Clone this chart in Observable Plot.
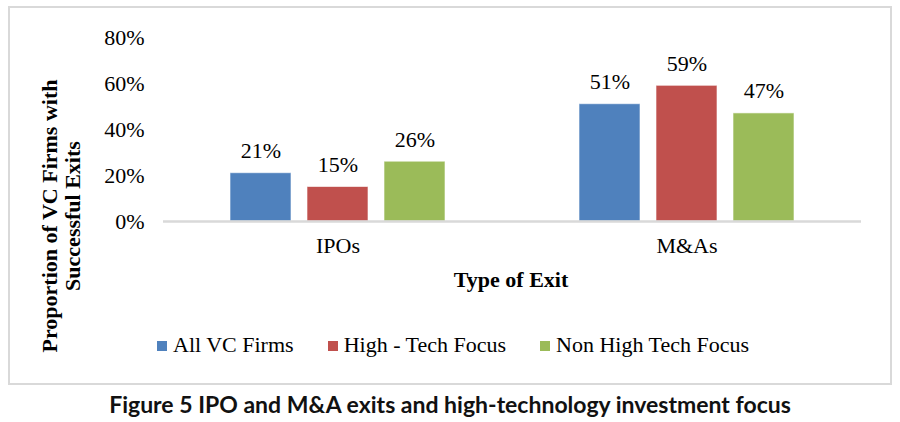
<!DOCTYPE html>
<html>
<head>
<meta charset="utf-8">
<script src="https://cdn.jsdelivr.net/npm/d3@7"></script>
<script src="https://cdn.jsdelivr.net/npm/@observablehq/plot@0.6"></script>
<style>
  body { margin: 0; background: #fff; }
  #wrap { position: relative; width: 900px; height: 422px; font-family: "Liberation Serif", "Times New Roman", serif; }
  #frame { position: absolute; left: 8px; top: 6px; width: 880px; height: 375px; border: 2px solid #d9d9d9; }
  #chart { position: absolute; left: 0; top: 0; }
  #ylab { position: absolute; left: 61px; top: 216px; transform: translate(-50%, -50%) rotate(-90deg);
          white-space: nowrap; text-align: center; font-weight: bold; font-size: 22px; line-height: 23px; color: #000; }
  #xlab { position: absolute; left: 511px; top: 280px; transform: translate(-50%, -50%);
          font-weight: bold; font-size: 22px; color: #000; white-space: nowrap; }
  #legend { position: absolute; left: 157px; top: 332px; font-size: 22px; color: #000; white-space: nowrap; }
  #legend span.item { display: inline-block; margin-right: 34px; }
  #legend span.sw { display: inline-block; width: 10px; height: 10px; margin-right: 6px; vertical-align: 1px; }
  #caption { position: absolute; left: 0; width: 900px; top: 390px; text-align: center;
             font-family: Lato, "Open Sans", sans-serif; font-weight: bold; font-size: 23px; color: #111; }
</style>
</head>
<body>
<div id="wrap">
  <div id="frame"></div>
  <div id="chart"></div>
  <div id="ylab">Proportion of VC Firms with<br>Successful Exits</div>
  <div id="xlab">Type of Exit</div>
  <div id="legend"></div>
  <div id="caption">Figure 5 IPO and M&amp;A exits and high-technology investment focus</div>
</div>
<script>
const exitTypes = ["IPOs", "M&As"];
const seriesNames = ["All VC Firms", "High - Tech Focus", "Non High Tech Focus"];
const seriesColors = ["#4f81bd", "#c0504d", "#9bbb59"];
const allVC = [0.21, 0.51];
const highTech = [0.15, 0.59];
const nonHighTech = [0.26, 0.47];
const yTicks = [0, 0.2, 0.4, 0.6, 0.8];

const seriesValues = [allVC, highTech, nonHighTech];
const data = [];
exitTypes.forEach((t, i) => {
  seriesNames.forEach((s, j) => data.push({type: t, series: s, value: seriesValues[j][i]}));
});

const plot = Plot.plot({
  width: 900,
  height: 300,
  marginLeft: 162,
  marginRight: 39,
  marginTop: 37,
  marginBottom: 79,
  style: {fontFamily: '"Liberation Serif", "Times New Roman", serif', fontSize: "22px", color: "#000", background: "transparent"},
  fx: {domain: exitTypes, padding: 0, label: null},
  x: {domain: seriesNames, paddingInner: 0.21, paddingOuter: 0.87, axis: null},
  y: {domain: [0, 0.8], ticks: yTicks, tickFormat: d3.format(".0%"), label: null, tickSize: 0, tickPadding: 19},
  color: {domain: seriesNames, range: seriesColors},
  marks: [
    Plot.axisFx({anchor: "bottom", tickSize: 0, tickPadding: 16, fontSize: 22, label: null}),
    Plot.barY(data, {fx: "type", x: "series", y: "value", fill: "series", stroke: "#ffffff", strokeOpacity: 0.6, strokeWidth: 1}),
    Plot.ruleY([0], {stroke: "#d9d9d9", strokeWidth: 2.5}),
    Plot.text(data, {fx: "type", x: "series", y: "value", text: d => d3.format(".0%")(d.value), dy: -22, fontSize: 22, fill: "#000"})
  ]
});
document.getElementById("chart").appendChild(plot);

const legend = document.getElementById("legend");
seriesNames.forEach((s, i) => {
  const item = document.createElement("span");
  item.className = "item";
  const sw = document.createElement("span");
  sw.className = "sw";
  sw.style.background = seriesColors[i];
  item.appendChild(sw);
  item.appendChild(document.createTextNode(s));
  legend.appendChild(item);
});
</script>
</body>
</html>
